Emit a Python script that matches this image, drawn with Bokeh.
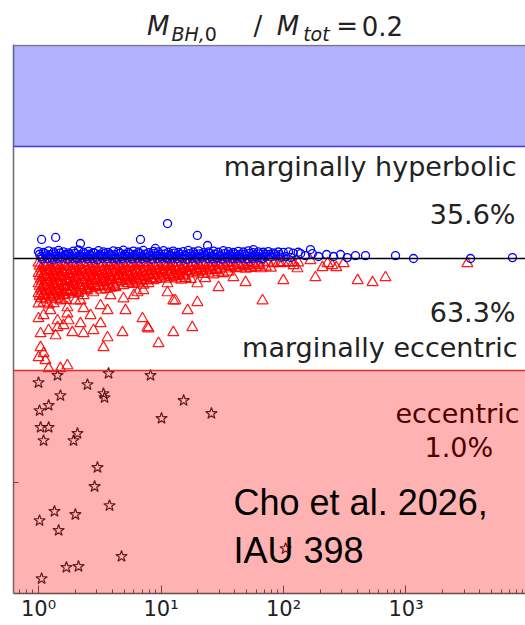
from bokeh.plotting import figure
from bokeh.layouts import column
from bokeh.models import (BoxAnnotation, Span, Label, FixedTicker,
                          CustomJSTickFormatter)
from bokeh.core.properties import value
from bokeh.embed import file_html
from bokeh.resources import INLINE

# ---------------------------------------------------------------------------
# Data: x = separation (log axis), y = orbital-energy offset (arbitrary units)
# ---------------------------------------------------------------------------
# x positions sampled along the crowded band around the parabolic line
band_x_a = [1.00, 1.10, 1.21, 1.33, 1.46, 1.60, 1.76, 1.93, 2.12, 2.33, 2.56,
            2.81, 3.09, 3.39, 3.72, 4.09, 4.49, 4.93, 5.42, 5.95, 6.54, 7.18,
            7.89, 8.67, 9.52, 10.5, 11.5, 12.6, 13.9, 15.2, 16.7, 18.4, 20.2,
            22.2, 24.4, 26.8, 29.4, 32.3, 35.5, 39.0, 42.8, 47.0, 51.7, 56.7,
            62.3, 68.5, 75.2, 82.6, 90.8, 99.7, 110, 120, 132]
band_x_b = [1.05, 1.15, 1.27, 1.39, 1.53, 1.68, 1.84, 2.02, 2.22, 2.44, 2.68,
            2.95, 3.24, 3.55, 3.90, 4.29, 4.71, 5.17, 5.68, 6.24, 6.85, 7.53,
            8.27, 9.09, 9.98, 11.0, 12.1, 13.2, 14.6, 15.9, 17.5, 19.3, 21.2,
            23.3, 25.6, 28.1, 30.8, 33.9, 37.2, 40.9, 44.9, 49.3, 54.2, 59.4,
            65.3, 71.8, 78.8, 86.6, 95.2, 104.5, 115]
band_x_c = [1.02, 1.13, 1.24, 1.36, 1.49, 1.64, 1.80, 1.98, 2.17, 2.39, 2.62,
            2.88, 3.16, 3.47, 3.81, 4.19, 4.60, 5.05, 5.55, 6.09, 6.70, 7.35,
            8.08, 8.88, 9.75, 10.8, 11.8, 12.9, 14.2, 15.6, 17.1, 18.8, 20.7,
            22.7, 25.0, 27.4, 30.1, 33.1, 36.3, 39.9, 43.8, 48.1, 52.9, 58.1,
            63.8, 70.1, 77.0, 84.6, 93.0]
band_x_d = [1.07, 1.18, 1.30, 1.43, 1.57, 1.72, 1.89, 2.07, 2.27, 2.50, 2.75,
            3.01, 3.31, 3.64, 3.99, 4.39, 4.82, 5.29, 5.81, 6.38, 7.01, 7.70,
            8.46, 9.30, 10.2, 11.3, 12.3, 13.5, 14.9, 16.3, 17.9, 19.7, 21.7,
            23.8, 26.2, 28.7, 31.5, 34.6, 38.1, 41.8, 45.9, 50.4, 55.5, 60.8,
            66.8]

# marginally hyperbolic systems (open circles)
hyp_y_a = [0.31, 0.27, 0.34, 0.29, 0.36, 0.30, 0.25, 0.33, 0.38, 0.28,
           0.32, 0.26, 0.35, 0.30, 0.27, 0.34, 0.31, 0.37, 0.28, 0.33,
           0.29, 0.36, 0.26, 0.32, 0.30, 0.35, 0.28, 0.33, 0.27, 0.31,
           0.36, 0.29, 0.34, 0.26, 0.30, 0.33, 0.28, 0.35, 0.31, 0.27,
           0.32, 0.29, 0.34, 0.26, 0.30, 0.28, 0.31, 0.25, 0.29, 0.27,
           0.30, 0.24, 0.28]
hyp_y_b = [0.08, 0.12, 0.05, 0.10, 0.07, 0.14, 0.09, 0.04, 0.11, 0.08,
           0.13, 0.06, 0.10, 0.09, 0.12, 0.05, 0.08, 0.11, 0.07, 0.13,
           0.09, 0.06, 0.10, 0.12, 0.08, 0.05, 0.11, 0.09, 0.07, 0.12,
           0.10, 0.06, 0.09, 0.13, 0.08, 0.05, 0.10, 0.07, 0.11, 0.09,
           0.06, 0.12, 0.08, 0.10, 0.05, 0.09, 0.07, 0.11, 0.06, 0.08,
           0.05]
hyp_y_c = [0.19, 0.22, 0.17, 0.21, 0.24, 0.18, 0.20, 0.23, 0.16, 0.21,
           0.19, 0.24, 0.18, 0.22, 0.20, 0.17, 0.23, 0.19, 0.21, 0.18,
           0.22, 0.20, 0.16, 0.23, 0.19, 0.21, 0.18, 0.24, 0.20, 0.17,
           0.22, 0.19, 0.21, 0.18, 0.23, 0.20, 0.16, 0.22, 0.19, 0.21,
           0.18, 0.20, 0.23, 0.17, 0.21, 0.19, 0.18, 0.20, 0.17]
hyp_y_d = [-0.02, 0.01, -0.04, 0.00, 0.02, -0.03, 0.01, -0.01, 0.03, -0.02,
           0.00, -0.04, 0.02, -0.01, 0.01, -0.03, 0.00, 0.02, -0.02, 0.01,
           -0.01, 0.03, -0.03, 0.00, 0.01, -0.02, 0.02, -0.01, 0.00, -0.03,
           0.01, -0.02, 0.02, 0.00, -0.01, 0.01, -0.03, 0.02, -0.01, 0.00,
           0.01, -0.02, 0.00, 0.02, -0.01]
hyp_sparse_x = [151, 172, 193, 225, 256, 292, 331, 387,
                1.06, 1.38, 2.20, 6.80, 11.3, 19.8, 24.0, 9.0, 56.9, 166, 138,
                467, 821, 1151, 3365, 7400]
hyp_sparse_y = [0.13, 0.22, 0.09, 0.18, 0.09, 0.18, 0.04, 0.13,
                0.85, 0.94, 0.67, 0.85, 1.56, 1.03, 0.58, 0.45, 0.40, 0.40, 0.22,
                0.13, 0.13, 0.0, 0.0, 0.04]

# marginally eccentric systems (open triangles), crowded rows below the line
ecc_r1 = [-0.20, -0.25, -0.18, -0.23, -0.28, -0.19, -0.24, -0.21, -0.27, -0.17,
          -0.22, -0.26, -0.20, -0.24, -0.18, -0.23, -0.27, -0.21, -0.19, -0.25,
          -0.22, -0.18, -0.26, -0.20, -0.23, -0.19, -0.24, -0.21, -0.17, -0.25,
          -0.22, -0.20, -0.26, -0.18, -0.23, -0.21, -0.19, -0.24, -0.17, -0.22,
          -0.20, -0.25, -0.18, -0.21, -0.23, -0.19, -0.16, -0.22, -0.20, -0.18,
          -0.21, -0.17, -0.19]
ecc_r1b = [-0.33, -0.30, -0.36, -0.31, -0.35, -0.29, -0.34, -0.37, -0.32, -0.30,
           -0.35, -0.33, -0.29, -0.36, -0.31, -0.34, -0.30, -0.37, -0.32, -0.35,
           -0.29, -0.33, -0.36, -0.31, -0.34, -0.30, -0.32, -0.37, -0.33, -0.29,
           -0.35, -0.31, -0.34, -0.30, -0.36, -0.32, -0.29, -0.33, -0.35, -0.31,
           -0.30, -0.34, -0.32, -0.29, -0.31]
ecc_r2 = [-0.45, -0.40, -0.50, -0.43, -0.48, -0.38, -0.52, -0.44, -0.47, -0.41,
          -0.49, -0.43, -0.39, -0.51, -0.46, -0.42, -0.48, -0.44, -0.40, -0.50,
          -0.45, -0.41, -0.47, -0.43, -0.49, -0.39, -0.46, -0.42, -0.48, -0.44,
          -0.40, -0.47, -0.43, -0.45, -0.41, -0.48, -0.42, -0.46, -0.39, -0.44,
          -0.41, -0.47, -0.43, -0.40, -0.45, -0.38, -0.42]
ecc_r2b = [-0.56, -0.52, -0.59, -0.54, -0.58, -0.51, -0.57, -0.60, -0.53, -0.55,
           -0.58, -0.52, -0.56, -0.59, -0.54, -0.51, -0.57, -0.55, -0.60, -0.53,
           -0.56, -0.58, -0.52, -0.54, -0.59, -0.55, -0.51, -0.57, -0.53, -0.58,
           -0.55, -0.52, -0.56, -0.54, -0.51, -0.53]
ecc_r3 = [-0.66, -0.72, -0.61, -0.69, -0.75, -0.63, -0.70, -0.65, -0.73, -0.60,
          -0.68, -0.74, -0.62, -0.71, -0.66, -0.64, -0.76, -0.69, -0.61, -0.72,
          -0.67, -0.63, -0.70, -0.74, -0.65, -0.69, -0.62, -0.71, -0.66, -0.73,
          -0.64, -0.68, -0.61, -0.70, -0.65, -0.72, -0.63, -0.67, -0.60]
ecc_r3b = [-0.78, -0.74, -0.81, -0.76, -0.80, -0.73, -0.79, -0.82, -0.75, -0.77,
           -0.80, -0.74, -0.78, -0.81, -0.76, -0.73, -0.79, -0.77, -0.82, -0.75,
           -0.78, -0.80, -0.74, -0.76, -0.81, -0.77, -0.73, -0.79, -0.75, -0.78]
ecc_r4 = [-0.90, -0.85, -0.95, -0.88, -0.82, -0.97, -0.91, -0.86, -0.93, -0.84,
          -0.89, -0.96, -0.87, -0.92, -0.83, -0.90, -0.94, -0.86, -0.91, -0.88,
          -0.95, -0.84, -0.89, -0.93, -0.87, -0.91, -0.85, -0.90, -0.96, -0.88,
          -0.92]
ecc_r4b = [-1.00, -0.96, -1.03, -0.98, -1.02, -0.95, -1.01, -1.04, -0.97, -0.99,
           -1.02, -0.96, -1.00, -1.03, -0.98, -0.95, -1.01, -0.99, -1.04, -0.97,
           -1.00, -0.98]
ecc_r5 = [-1.12, -1.18, -1.07, -1.15, -1.10, -1.21, -1.05, -1.14, -1.19, -1.09,
          -1.16, -1.11, -1.22, -1.06, -1.13, -1.17, -1.08, -1.20, -1.12, -1.15,
          -1.09, -1.18, -1.11]
ecc_r5b = [-1.23, -1.19, -1.26, -1.21, -1.25, -1.18, -1.24, -1.27, -1.20, -1.22,
           -1.25, -1.19, -1.23, -1.26, -1.21, -1.24]
ecc_r6 = [-1.35, -1.30, -1.40, -1.33, -1.38, -1.28, -1.42, -1.36, -1.31, -1.39,
          -1.34, -1.29, -1.41, -1.37, -1.32]
ecc_r6b = [-1.45, -1.41, -1.48, -1.43, -1.47, -1.40, -1.46, -1.49, -1.42, -1.44]
ecc_r7 = [-1.56, -1.61, -1.52, -1.59, -1.54, -1.63, -1.50, -1.58, -1.55]
ecc_r7b = [-1.68, -1.64, -1.71, -1.66, -1.70, -1.63]
ecc_r8 = [-1.78, -1.84, -1.75, -1.82, -1.80, -1.86]
ecc_r9 = [-2.02, -1.98, -2.06, -2.01]

ecc_sparse_x = [1.00, 1.04, 1.38, 1.43, 1.76, 1.89, 2.33, 2.20, 3.21, 3.66,
                3.21, 3.87, 4.85, 3.66, 3.39, 6.43, 7.06, 7.75, 9.54, 12.6,
                12.6, 16.5, 18.0, 19.8, 8.67, 11.3, 15.8, 19.8, 23.0, 29.5,
                39.0, 49.0, 1.10, 1.14, 1.04, 1.21, 1.72, 1.51, 1.00, 2.33,
                2.00, 2.81, 4.25, 5.32, 7.18, 2.33, 2.66, 1.72, 1.51, 1.25,
                1.10, 1.43, 1.72, 2.20, 2.81, 11.3, 13.1, 7.90, 6.00, 4.94,
                5.13, 67.4, 99.7, 130, 182, 208, 250, 270, 403, 533,
                680, 3170, 166, 121, 1.21, 1.60, 94.6, 229, 310]
ecc_sparse_y = [-2.68, -3.35, -3.44, -2.77, -2.77, -3.30, -3.35, -1.88, -2.10, -2.32,
                -2.90, -1.65, -3.30, -3.53, -3.97, -1.52, -2.68, -3.08, -3.79, -1.88,
                -3.30, -2.32, -3.08, -1.96, -0.98, -1.12, -0.89, -1.12, -0.89, -1.29,
                -0.85, -1.07, -4.24, -4.55, -3.97, -4.91, -4.78, -4.91, -4.42, -1.65,
                -1.88, -1.52, -1.29, -1.12, -1.43, -2.23, -2.54, -2.19, -1.88, -2.32,
                -2.54, -3.08, -2.46, -2.90, -3.21, -1.52, -1.88, -3.13, -1.65, -1.79,
                -2.32, -1.88, -0.98, -0.45, -0.85, -0.40, -0.31, -0.40, -0.98, -1.07,
                -0.85, -0.22, -0.09, -0.31, -3.21, -2.99, -0.22, -0.22, -0.22]

# eccentric systems (open stars)
bound_x = [1.00, 1.43, 1.51, 2.51, 3.39, 3.46, 3.73, 8.21, 1.02, 1.21,
           1.04, 1.21, 1.10, 1.93, 2.08, 3.03, 2.87, 3.80, 1.02, 1.35,
           2.00, 1.46, 1.69, 2.12, 4.76, 1.06, 15.3, 10.1, 25.8, 104]
bound_y = [-5.54, -5.22, -6.12, -5.63, -6.03, -6.21, -5.13, -5.22, -6.79, -6.56,
           -7.54, -7.54, -8.13, -8.13, -7.81, -9.33, -10.18, -11.03, -11.70, -11.29,
           -11.43, -12.14, -13.79, -13.75, -13.30, -14.29, -6.34, -7.14, -6.92, -12.95]

# region boundaries and fractions
hyperbolic_edge = 5.0
eccentric_edge = -5.0
frac_hyperbolic = "35.6%"
frac_marginal = "63.3%"
frac_eccentric = "1.0%"

# assemble the series
hyp_x = band_x_a + band_x_b + band_x_c + band_x_d + hyp_sparse_x
hyp_y = hyp_y_a + hyp_y_b + hyp_y_c + hyp_y_d + hyp_sparse_y
ecc_x = (band_x_a[:53] + band_x_c[:45] + band_x_b[:47] + band_x_d[:36]
         + band_x_a[:39] + band_x_c[:30] + band_x_b[:31] + band_x_d[:22]
         + band_x_a[:23] + band_x_c[:16] + band_x_b[:15] + band_x_d[:10]
         + band_x_a[:9] + band_x_c[:6] + band_x_b[:6] + band_x_a[:4]
         + ecc_sparse_x)
ecc_y = (ecc_r1 + ecc_r1b + ecc_r2 + ecc_r2b + ecc_r3 + ecc_r3b + ecc_r4
         + ecc_r4b + ecc_r5 + ecc_r5b + ecc_r6 + ecc_r6b + ecc_r7 + ecc_r7b
         + ecc_r8 + ecc_r9 + ecc_sparse_y)

# ---------------------------------------------------------------------------
# heading strip: M_{BH,0} / M_tot = 0.2  (pixel-like coordinates, no axes)
head = figure(width=525, height=44, x_range=(0, 525), y_range=(0, 44),
              x_axis_location=None, y_axis_location=None,
              output_backend="svg", toolbar_location=None, min_border=0)
head.grid.visible = False
head.outline_line_color = None
head.background_fill_color = "white"
head.border_fill_color = "white"


def title_piece(text, x, y, size, style):
    head.add_layout(Label(x=x, y=y, text=text, text_font="DejaVu Sans",
                          text_font_size=size, text_font_style=style,
                          text_color="#222222", text_align="left",
                          text_baseline="alphabetic"))


title_piece("M", 137, 18.4, "26px", "italic")
title_piece("BH,", 162, 10.6, "19px", "italic")
title_piece("0", 196, 10.6, "19px", "normal")
title_piece("/", 246, 18.4, "26px", "normal")
title_piece("M", 270, 18.4, "26px", "italic")
title_piece("tot", 297, 10.6, "19px", "italic")
title_piece("=", 331, 18.4, "26px", "normal")
title_piece("0.2", 357, 18.4, "26px", "normal")

# ---------------------------------------------------------------------------
p = figure(width=525, height=581, x_axis_type="log",
           x_range=(0.625, 9452), y_range=(-14.955, 9.554),
           output_backend="svg", toolbar_location=None,
           min_border_left=13, min_border_right=0,
           min_border_top=0, min_border_bottom=32)
p.outline_line_color = None
p.grid.visible = False
p.background_fill_color = "white"
p.border_fill_color = "white"

# bottom (log) axis with 10^n labels
xa = p.xaxis[0]
xa.ticker = FixedTicker(ticks=[1, 10, 100, 1000],
                        minor_ticks=[m * 10 ** e for e in range(-1, 4) for m in range(2, 10)])
xa.formatter = CustomJSTickFormatter(code="""
const sup = {"0": "\u2070", "1": "\u00b9", "2": "\u00b2", "3": "\u00b3", "4": "\u2074", "-": "\u207b"};
const e = Math.round(Math.log10(tick));
return "10" + String(e).split("").map((c) => sup[c]).join("");
""")
xa.major_tick_in = 8
xa.major_tick_out = 0
xa.minor_tick_in = 4
xa.minor_tick_out = 0
xa.major_label_standoff = 3
xa.major_label_text_font = "DejaVu Sans"
xa.major_label_text_font_size = "21px"
xa.major_label_text_color = "#222222"
xa.axis_line_color = "#555555"
xa.axis_line_width = 1.5
xa.major_tick_line_color = "#555555"
xa.minor_tick_line_color = "#555555"

# left axis: ticks only
ya = p.yaxis[0]
ya.ticker = FixedTicker(ticks=[0, -10])
ya.formatter = CustomJSTickFormatter(code="return '';")
ya.major_tick_in = 5
ya.major_tick_out = 0
ya.minor_tick_in = 0
ya.minor_tick_out = 0
ya.axis_line_color = "#6a6a78"
ya.axis_line_width = 1.5
ya.major_tick_line_color = "#555555"

# data points
p.scatter(ecc_x, ecc_y, marker="triangle", size=11, fill_color=None,
          line_color="red", line_alpha=0.9, line_width=1.2)
p.scatter(hyp_x, hyp_y, marker="circle", size=8, fill_color=None,
          line_color="blue", line_alpha=1.0, line_width=1.3)
p.scatter(bound_x, bound_y, marker="star", size=12, fill_color=None,
          line_color="black", line_alpha=0.85, line_width=1.2)

# region captions (under the shaded bands)
cap = dict(text_font=value("DejaVu Sans"), text_font_size="27px",
           text_baseline="alphabetic")
p.text(x=[7980], y=[4.09], text=["marginally hyperbolic"], text_align="right",
       text_color="#222222", **cap)
p.text(x=[7830], y=[1.95], text=[frac_hyperbolic], text_align="right",
       text_color="#222222", **cap)
p.text(x=[7830], y=[-2.43], text=[frac_marginal], text_align="right",
       text_color="#222222", **cap)
p.text(x=[8130], y=[-3.99], text=["marginally eccentric"], text_align="right",
       text_color="#222222", **cap)
p.text(x=[2630], y=[-6.94], text=["eccentric"], text_align="center",
       text_color="black", **cap)
p.text(x=[2700], y=[-8.45], text=[frac_eccentric], text_align="center",
       text_color="black", **cap)

# shaded regions, boundary lines and top spine
p.add_layout(BoxAnnotation(bottom=hyperbolic_edge, top=9.51, fill_color="blue",
                           fill_alpha=0.3, line_color=None))
p.add_layout(BoxAnnotation(top=eccentric_edge, fill_color="red", fill_alpha=0.3,
                           line_color=None))
p.add_layout(Span(location=9.51, dimension="width", line_color="#777788",
                  line_width=1.5))
p.add_layout(Span(location=hyperbolic_edge, dimension="width", line_color="#3c3cd8",
                  line_width=1.5))
p.add_layout(Span(location=0, dimension="width", line_color="black", line_width=1.5))
p.add_layout(Span(location=eccentric_edge, dimension="width", line_color="#d83030",
                  line_width=1.5))

# citation
p.add_layout(Label(x=39.1, y=-10.89, text="Cho et al. 2026,", text_font="Liberation Sans",
                   text_font_size="36px", text_color="black", text_baseline="alphabetic"))
p.add_layout(Label(x=39.1, y=-13.04, text="IAU 398", text_font="Liberation Sans",
                   text_font_size="36px", text_color="black", text_baseline="alphabetic"))

open("out.html", "w").write(file_html(column(head, p, spacing=0), INLINE))
